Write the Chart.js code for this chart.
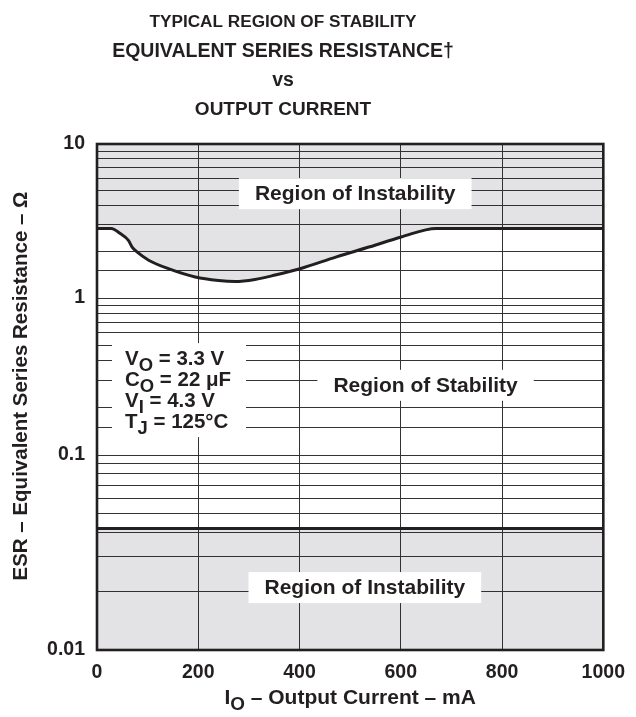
<!DOCTYPE html>
<html>
<head>
<meta charset="utf-8">
<script src="https://cdn.jsdelivr.net/npm/chart.js@4.4.0/dist/chart.umd.min.js"></script>
<style>
  html, body { margin: 0; padding: 0; background: #ffffff; }
  #wrap { width: 636px; height: 717px; position: relative; }
</style>
</head>
<body>
<div id="wrap"><canvas id="chart"></canvas></div>
<script>
// ---------------- data ----------------
const titleLines = ['TYPICAL REGION OF STABILITY', 'EQUIVALENT SERIES RESISTANCE\u2020', 'vs', 'OUTPUT CURRENT'];
const xTickValues = [0, 200, 400, 600, 800, 1000];
const xTickLabels = ['0', '200', '400', '600', '800', '1000'];
const yTickValues = [0.01, 0.1, 1, 10];
const yTickLabels = ['0.01', '0.1', '1', '10'];

// upper stability boundary (ESR in ohms vs output current in mA)
const currentMA = [0, 28, 46, 62, 69, 79, 102, 141, 194, 240, 273, 312, 352, 401, 473, 539, 601, 670, 1000];
const esrUpper  = [2.83, 2.83, 2.62, 2.37, 2.15, 1.99, 1.76, 1.55, 1.37, 1.30, 1.28, 1.32, 1.41, 1.55, 1.85, 2.15, 2.49, 2.83, 2.83];

// lower stability boundary
const lowerCurrentMA = [0, 1000];
const esrLower = [0.042, 0.042];

const regionTexts = ['Region of Instability', 'Region of Stability', 'Region of Instability'];
const regionCurrent = [510, 649, 529];
const regionEsr = [4.76, 0.278, 0.0209];

const conditionLines = [
  [['V', 0], ['O', 1], [' = 3.3 V', 0]],
  [['C', 0], ['O', 1], [' = 22 \u03bcF', 0]],
  [['V', 0], ['I', 1], [' = 4.3 V', 0]],
  [['T', 0], ['J', 1], [' = 125\u00b0C', 0]]
];
const conditionsAnchor = { current: 162, esr: 0.259 };

const xTitleRuns = [['I', 0], ['O', 1], [' \u2013 Output Current \u2013 mA', 0]];
const yTitleText = 'ESR \u2013 Equivalent Series Resistance \u2013 \u03a9';

// ---------------- styling ----------------
const INK = '#231f20';
const GRAY = 'rgba(35,40,55,0.13)';
const FONT = '"Liberation Sans", Arial, Helvetica, sans-serif';
// printed heights of the decades 0.01-0.1, 0.1-1, 1-10 (the printed axis is not uniform)
const yDecadeSpans = [195, 157, 154];

Chart.defaults.font.family = FONT;
Chart.defaults.color = INK;

class PrintedLogScale extends Chart.LogarithmicScale {
  _decimalOf(v) {
    const total = yDecadeSpans.reduce((a, b) => a + b, 0);
    const L = Math.log10(v) - Math.log10(this.min);
    const k = Math.min(Math.max(Math.floor(L), 0), yDecadeSpans.length - 1);
    let acc = 0;
    for (let i = 0; i < k; i++) acc += yDecadeSpans[i];
    acc += (L - k) * yDecadeSpans[k];
    return acc / total;
  }
  getPixelForValue(value) {
    if (value === undefined || value === 0) value = this.min;
    if (value === null || isNaN(value)) return NaN;
    return this.getPixelForDecimal(this._decimalOf(value));
  }
  getValueForPixel(pixel) {
    const total = yDecadeSpans.reduce((a, b) => a + b, 0);
    let t = this.getDecimalForPixel(pixel) * total;
    let k = 0;
    while (k < yDecadeSpans.length - 1 && t > yDecadeSpans[k]) { t -= yDecadeSpans[k]; k++; }
    return Math.pow(10, Math.log10(this.min) + k + t / yDecadeSpans[k]);
  }
}
PrintedLogScale.id = 'printedLog';
PrintedLogScale.defaults = Chart.LogarithmicScale.defaults;
Chart.register(PrintedLogScale);

function drawRuns(ctx, runs, x, y, size, align) {
  const subSize = size * 0.9;
  const widths = runs.map(r => {
    ctx.font = 'bold ' + (r[1] ? subSize : size) + 'px ' + FONT;
    return ctx.measureText(r[0]).width;
  });
  const total = widths.reduce((a, b) => a + b, 0);
  let cx = align === 'center' ? x - total / 2 : x;
  ctx.textAlign = 'left';
  ctx.textBaseline = 'alphabetic';
  runs.forEach((r, i) => {
    ctx.font = 'bold ' + (r[1] ? subSize : size) + 'px ' + FONT;
    ctx.fillText(r[0], cx, y + (r[1] ? size * 0.27 : 0));
    cx += widths[i];
  });
}

const decorPlugin = {
  id: 'decor',
  afterDatasetsDraw(chart) {
    const ctx = chart.ctx;
    const xs = chart.scales.x, ys = chart.scales.y;
    const a = chart.chartArea;
    ctx.save();
    // frame
    ctx.strokeStyle = INK;
    ctx.lineWidth = 2.6;
    ctx.strokeRect(a.left, a.top, a.right - a.left, a.bottom - a.top);

    // region labels
    regionTexts.forEach((t, i) => {
      const cx = xs.getPixelForValue(regionCurrent[i]);
      const cy = ys.getPixelForValue(regionEsr[i]);
      ctx.font = 'bold 21px ' + FONT;
      const w = ctx.measureText(t).width + 32;
      const h = 31;
      ctx.fillStyle = '#ffffff';
      ctx.fillRect(cx - w / 2, cy - h / 2, w, h);
      ctx.fillStyle = INK;
      ctx.textAlign = 'center';
      ctx.textBaseline = 'middle';
      ctx.fillText(t, cx, cy + 1);
    });

    // test conditions box
    const bx = xs.getPixelForValue(conditionsAnchor.current);
    const by = ys.getPixelForValue(conditionsAnchor.esr);
    const bw = 134, bh = 94;
    ctx.fillStyle = '#ffffff';
    ctx.fillRect(bx - bw / 2, by - bh / 2, bw, bh);
    ctx.fillStyle = INK;
    conditionLines.forEach((runs, i) => {
      drawRuns(ctx, runs, bx - bw / 2 + 13, by - bh / 2 + 22 + i * 21, 20.5, 'left');
    });
    ctx.restore();
  },
  afterDraw(chart) {
    const ctx = chart.ctx;
    const a = chart.chartArea;
    ctx.save();
    ctx.fillStyle = INK;
    ctx.textAlign = 'center';
    ctx.textBaseline = 'alphabetic';
    const titleSizes = [17.2, 19.5, 19.5, 19];
    const titleBase = [27, 57, 86, 115];
    titleLines.forEach((t, i) => {
      ctx.font = 'bold ' + titleSizes[i] + 'px ' + FONT;
      ctx.fillText(t, 283, titleBase[i]);
    });
    // x axis title
    drawRuns(ctx, xTitleRuns, (a.left + a.right) / 2, 704, 21, 'center');
    // y axis title
    ctx.translate(21, 386);
    ctx.rotate(-Math.PI / 2);
    ctx.font = 'bold 20.5px ' + FONT;
    ctx.textAlign = 'center';
    ctx.textBaseline = 'middle';
    ctx.fillText(yTitleText, 0, 0);
    ctx.restore();
  }
};

new Chart(document.getElementById('chart'), {
  type: 'line',
  data: {
    datasets: [
      {
        label: 'Upper ESR limit',
        data: currentMA.map((x, i) => ({ x: x, y: esrUpper[i] })),
        borderColor: INK,
        borderWidth: 3,
        backgroundColor: GRAY,
        fill: 'end',
        pointRadius: 0,
        cubicInterpolationMode: 'monotone'
      },
      {
        label: 'Lower ESR limit',
        data: lowerCurrentMA.map((x, i) => ({ x: x, y: esrLower[i] })),
        borderColor: INK,
        borderWidth: 3,
        backgroundColor: GRAY,
        fill: 'start',
        pointRadius: 0
      }
    ]
  },
  options: {
    responsive: true,
    maintainAspectRatio: false,
    animation: false,
    layout: { padding: { left: 0, right: 32, top: 144, bottom: 0 } },
    plugins: { legend: { display: false }, tooltip: { enabled: false }, title: { display: false } },
    scales: {
      x: {
        type: 'linear',
        min: 0,
        max: 1000,
        afterFit(s) { s.height = 67; },
        afterBuildTicks(s) { s.ticks = xTickValues.map(v => ({ value: v })); },
        grid: { color: '#333333', lineWidth: 1, drawTicks: false },
        border: { display: false },
        ticks: {
          padding: 11,
          font: { size: 19.5, weight: 'bold' },
          color: INK,
          maxRotation: 0,
          autoSkip: false,
          callback(v) {
            const i = xTickValues.indexOf(v);
            return i >= 0 ? xTickLabels[i] : '';
          }
        }
      },
      y: {
        type: 'printedLog',
        min: 0.01,
        max: 10,
        afterFit(s) { s.width = 97; },
        grid: { color: '#333333', lineWidth: 1, drawTicks: false },
        border: { display: false },
        ticks: {
          autoSkip: false,
          padding: 12,
          font: { size: 19.5, weight: 'bold' },
          color: INK,
          callback(v) {
            const i = yTickValues.findIndex(t => Math.abs(Math.log10(t) - Math.log10(v)) < 1e-6);
            return i >= 0 ? yTickLabels[i] : '';
          }
        }
      }
    }
  },
  plugins: [decorPlugin]
});
</script>
</body>
</html>
